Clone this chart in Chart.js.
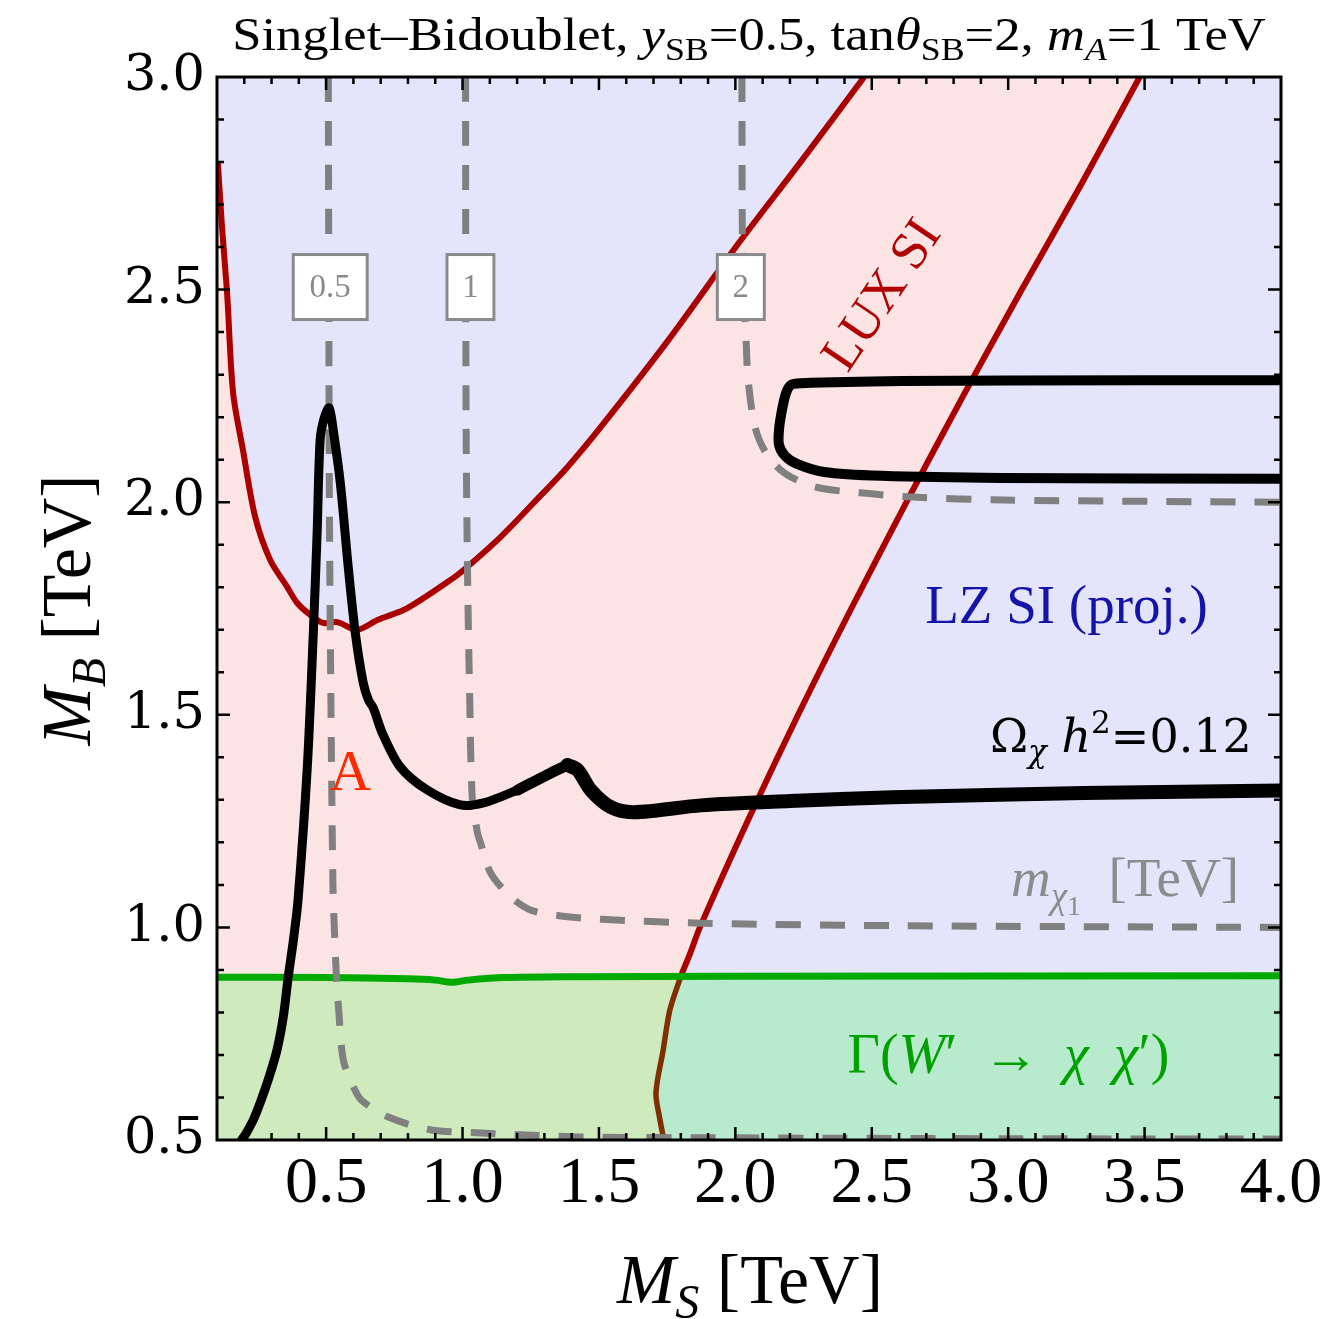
<!DOCTYPE html>
<html>
<head>
<meta charset="utf-8">
<script src="https://cdn.jsdelivr.net/npm/chart.js@4.4.1/dist/chart.umd.min.js"></script>
<style>
  html, body { margin: 0; padding: 0; background: #fff; }
</style>
</head>
<body>
<canvas id="chartSB" width="1334" height="1319"></canvas>
<script>
// =========================================================================
// Singlet-Bidoublet parameter plane (M_S, M_B) in TeV
// =========================================================================
const xMin = 0.1, xMax = 4.0, yMin = 0.5, yMax = 3.0;
const xTicks = [0.5, 1.0, 1.5, 2.0, 2.5, 3.0, 3.5, 4.0];
const yTicks = [0.5, 1.0, 1.5, 2.0, 2.5, 3.0];

// LUX SI exclusion boundary, left/upper branch
const luxUpper = [
  [0.103, 2.800], [0.118, 2.650], [0.137, 2.492], [0.159, 2.257], [0.195, 2.123],
  [0.240, 1.965], [0.295, 1.864], [0.357, 1.801], [0.394, 1.763], [0.442, 1.735],
  [0.489, 1.716], [0.541, 1.718], [0.614, 1.700], [0.688, 1.723], [0.798, 1.751],
  [0.967, 1.822], [1.018, 1.848], [1.139, 1.918], [1.260, 1.998], [1.385, 2.083],
  [1.507, 2.177], [1.753, 2.380], [2.013, 2.610], [2.245, 2.805], [2.472, 3.000]
];
// LUX SI exclusion boundary, right branch (top to bottom)
const luxRight = [
  [3.482, 3.000], [3.270, 2.750], [3.050, 2.500], [2.835, 2.250], [2.627, 2.000],
  [2.425, 1.750], [2.230, 1.500], [2.045, 1.250], [1.870, 1.000], [1.835, 0.940],
  [1.800, 0.885], [1.760, 0.806], [1.735, 0.710], [1.709, 0.611], [1.723, 0.550],
  [1.738, 0.500]
];
// Gamma(W' -> chi chi') boundary
const widthEdge = [
  [0.10, 0.883], [0.50, 0.882], [0.80, 0.879], [0.90, 0.876], [0.96, 0.871],
  [1.02, 0.876], [1.15, 0.882], [1.40, 0.884], [2.00, 0.885], [4.00, 0.886]
];
// m_chi1 contours [TeV]
const mChiLevels = ['0.5', '1', '2'];
const mChi05 = [
  [0.508, 3.000], [0.512, 2.000], [0.518, 1.500], [0.525, 1.100], [0.530, 1.000],
  [0.538, 0.880], [0.546, 0.806], [0.563, 0.688], [0.600, 0.625], [0.629, 0.594],
  [0.728, 0.554], [0.882, 0.524], [1.051, 0.517], [1.231, 0.512], [1.444, 0.507],
  [2.000, 0.505], [3.000, 0.503], [4.000, 0.502]
];
const mChi1 = [
  [1.011, 3.000], [1.013, 2.200], [1.018, 1.848], [1.026, 1.550], [1.036, 1.300],
  [1.055, 1.222], [1.066, 1.199], [1.103, 1.128], [1.176, 1.072], [1.249, 1.041],
  [1.360, 1.027], [1.507, 1.019], [1.874, 1.010], [2.608, 1.004], [4.000, 1.000]
];
const mChi2 = [
  [2.024, 3.000], [2.026, 2.600], [2.032, 2.480], [2.039, 2.389], [2.046, 2.294],
  [2.072, 2.177], [2.112, 2.116], [2.179, 2.069], [2.292, 2.036], [2.458, 2.022],
  [2.652, 2.012], [2.983, 2.005], [4.000, 2.000]
];
// Omega h^2 = 0.12 contours
const relicMain = [
  [0.190, 0.500], [0.207, 0.516], [0.235, 0.550], [0.262, 0.594], [0.292, 0.650],
  [0.320, 0.712], [0.343, 0.790], [0.361, 0.883], [0.380, 0.970], [0.397, 1.064],
  [0.431, 1.377], [0.453, 1.692], [0.467, 1.928], [0.478, 2.146], [0.493, 2.198],
  [0.511, 2.222], [0.526, 2.170], [0.552, 2.045], [0.581, 1.848], [0.607, 1.692],
  [0.636, 1.575], [0.655, 1.535], [0.673, 1.516], [0.706, 1.457], [0.772, 1.377],
  [0.871, 1.323], [0.992, 1.288], [1.077, 1.293], [1.202, 1.323], [1.323, 1.363],
  [1.385, 1.382], [1.422, 1.370], [1.470, 1.323], [1.543, 1.283], [1.628, 1.271],
  [1.874, 1.287], [2.200, 1.297], [2.575, 1.306], [3.277, 1.316], [4.000, 1.322]
];
const relicLoop = [
  [4.000, 2.287], [3.000, 2.286], [2.608, 2.285], [2.241, 2.280], [2.204, 2.276],
  [2.186, 2.257], [2.171, 2.217], [2.160, 2.170], [2.160, 2.135], [2.182, 2.109],
  [2.226, 2.090], [2.325, 2.071], [2.535, 2.062], [2.976, 2.057], [4.000, 2.055]
];

// ---- colours / geometry of the decorations
const colLZ = '#e4e4fa', colLUX = '#fde4e4', colGreenL = '#cfebbd', colGreenR = '#b8eacd';
const serif = '"Liberation Serif", "DejaVu Serif", serif';
const boxPos = [{ x: 0.515, y: 2.506, w: 77 }, { x: 1.029, y: 2.506, w: 50 }, { x: 2.020, y: 2.506, w: 50 }];
const smooth = 0.3;

// ---- split the LUX right branch where it meets the width boundary
function edgeAt(x) {
  for (let i = 1; i < widthEdge.length; i++) {
    const [x0, y0] = widthEdge[i - 1], [x1, y1] = widthEdge[i];
    if (x <= x1) return y0 + (y1 - y0) * (x - x0) / (x1 - x0);
  }
  return widthEdge[widthEdge.length - 1][1];
}
const knee = luxRight.findIndex(([x, y]) => y <= edgeAt(x) + 0.001);
const luxRed = luxRight.slice(0, knee + 1);
const luxBrown = luxRight.slice(knee);
const kneePt = luxRight[knee];

// polygons for the shaded regions; corner points are doubled so the spline stays sharp there
const first = a => a[0], last = a => a[a.length - 1];
const browns = luxBrown.slice(1);
const lightLeft = [[xMin, yMin], first(widthEdge), ...widthEdge.filter(p => p[0] < kneePt[0]), kneePt, kneePt,
  ...browns, last(browns)];
const lightRight = [kneePt, ...widthEdge.filter(p => p[0] > kneePt[0]), last(widthEdge), [xMax, yMin], [xMax, yMin],
  last(browns), ...browns.slice().reverse()];
const luxRegion = [...luxUpper, last(luxUpper), first(luxRight), ...luxRight, last(luxRight), [xMin, yMin]];

// the relic contour gets heavier towards large M_S
let bump = relicMain.findIndex(p => p[0] > 1);
relicMain.forEach((p, i) => { if (p[0] > 1 && p[1] > relicMain[bump][1]) bump = i; });
const mid = relicMain.findIndex(p => p[0] > 1.15);
const relicThin = relicMain.slice(0, mid + 1);
const relicMid = relicMain.slice(mid, bump + 1);
const relicThick = relicMain.slice(bump);

const toXY = arr => arr.map(([x, y]) => ({ x, y }));
function curve(arr, color, width, order, extra = {}) {
  return Object.assign({ data: toXY(arr), showLine: true, borderColor: color, borderWidth: width,
    pointRadius: 0, fill: false, clip: 0, order, tension: smooth, borderJoinStyle: 'round' }, extra);
}
function region(arr, color, order) {
  return { data: toXY(arr), showLine: true, borderColor: 'rgba(0,0,0,0)', borderWidth: 0,
    backgroundColor: color, fill: 'shape', pointRadius: 0, order, tension: smooth };
}
const dash = { borderDash: [25, 19], borderCapStyle: 'butt' };
const roundCap = { borderCapStyle: 'round' };

// ---- text with italics and sub/superscripts
function drawRich(ctx, runs, x, y, size, family, align) {
  const parts = runs.map(r => {
    const k = r.s === 'sub' || r.s === 'sup' ? 0.68 : r.s === 'sub2' ? 0.5 : 1;
    const font = `${r.i ? 'italic ' : ''}${Math.round(size * k)}px ${r.f || family}`;
    ctx.font = font;
    const dy = r.s === 'sub' ? 0.22 * size : r.s === 'sup' ? -0.4 * size : r.s === 'sub2' ? 0.36 * size : 0;
    return { t: r.t, font, dy, w: ctx.measureText(r.t).width };
  });
  const total = parts.reduce((s, p) => s + p.w, 0);
  let cx = align === 'center' ? x - total / 2 : align === 'right' ? x - total : x;
  ctx.textAlign = 'left';
  ctx.textBaseline = 'alphabetic';
  for (const p of parts) { ctx.font = p.font; ctx.fillText(p.t, cx, y + p.dy); cx += p.w; }
}

const plotBackground = {
  id: 'plotBackground',
  beforeDatasetsDraw(chart) {
    const { ctx, chartArea: a } = chart;
    ctx.save();
    ctx.fillStyle = colLZ;
    ctx.fillRect(a.left, a.top, a.right - a.left, a.bottom - a.top);
    ctx.restore();
  }
};

// Mathematica-style frame: inward ticks on all four sides
const frameTicks = {
  id: 'frameTicks',
  afterDatasetsDraw(chart) {
    const { ctx, chartArea: a, scales: { x, y } } = chart;
    ctx.save();
    ctx.strokeStyle = '#000';
    ctx.lineWidth = 2.5;
    ctx.beginPath();
    for (let t = Math.ceil(xMin * 10) + 1; t < xMax * 10; t++) {
      const len = t % 5 === 0 ? 13 : 7;
      const px = x.getPixelForValue(t / 10);
      ctx.moveTo(px, a.bottom); ctx.lineTo(px, a.bottom - len);
      ctx.moveTo(px, a.top); ctx.lineTo(px, a.top + len);
    }
    for (let t = yMin * 10 + 1; t < yMax * 10; t++) {
      const len = t % 5 === 0 ? 13 : 7;
      const py = y.getPixelForValue(t / 10);
      ctx.moveTo(a.left, py); ctx.lineTo(a.left + len, py);
      ctx.moveTo(a.right, py); ctx.lineTo(a.right - len, py);
    }
    ctx.stroke();
    ctx.lineWidth = 3;
    ctx.strokeRect(a.left, a.top, a.right - a.left, a.bottom - a.top);

    // contour level boxes
    mChiLevels.forEach((lbl, i) => {
      const b = boxPos[i];
      const cx = x.getPixelForValue(b.x), cy = y.getPixelForValue(b.y);
      ctx.fillStyle = '#fff';
      ctx.fillRect(cx - b.w / 2, cy - 34, b.w, 68);
      ctx.strokeStyle = '#8a8a8a';
      ctx.lineWidth = 3;
      ctx.strokeRect(cx - b.w / 2 + 1.5, cy - 32.5, b.w - 3, 65);
      ctx.fillStyle = '#8a8a8a';
      ctx.font = `33px ${serif}`;
      ctx.textAlign = 'center';
      ctx.textBaseline = 'middle';
      ctx.fillText(lbl, cx, cy + 1);
    });
    ctx.restore();
  }
};

const annotations = {
  id: 'annotations',
  afterDraw(chart) {
    const { ctx, scales: { x, y } } = chart;
    ctx.save();
    ctx.fillStyle = '#000';
    ctx.save();
    ctx.translate(749, 50);
    ctx.scale(1.12, 1);
    drawRich(ctx, [
      { t: 'Singlet\u2013Bidoublet, ' }, { t: 'y', i: 1 }, { t: 'SB', s: 'sub' }, { t: '=0.5, tan' },
      { t: '\u03b8', i: 1 }, { t: 'SB', s: 'sub' }, { t: '=2, ' }, { t: 'm', i: 1 }, { t: 'A', i: 1, s: 'sub' },
      { t: '=1 TeV' }
    ], 0, 0, 47, serif, 'center');
    ctx.restore();

    // axis titles
    drawRich(ctx, [{ t: 'M', i: 1 }, { t: 'S', i: 1, s: 'sub' }, { t: ' [TeV]' }], 750, 1303, 70, serif, 'center');
    ctx.save();
    ctx.translate(90, 610);
    ctx.rotate(-Math.PI / 2);
    drawRich(ctx, [{ t: 'M', i: 1 }, { t: 'B', i: 1, s: 'sub' }, { t: ' [TeV]' }], 0, 0, 70, serif, 'center');
    ctx.restore();

    // region labels
    ctx.save();
    ctx.fillStyle = '#b00000';
    ctx.translate(x.getPixelForValue(2.530), y.getPixelForValue(2.490));
    ctx.rotate(-56 * Math.PI / 180);
    drawRich(ctx, [{ t: 'LUX SI' }], 0, 18, 53, serif, 'center');
    ctx.restore();

    ctx.fillStyle = '#1414aa';
    drawRich(ctx, [{ t: 'LZ SI (proj.)' }], x.getPixelForValue(3.214), y.getPixelForValue(1.716), 55, serif, 'center');

    ctx.fillStyle = '#000';
    drawRich(ctx, [{ t: '\u03a9' }, { t: '\u03c7', i: 1, s: 'sub' }, { t: ' ' }, { t: 'h', i: 1 }, { t: '2', s: 'sup' }, { t: '=0.12' }],
      x.getPixelForValue(3.893), y.getPixelForValue(1.413), 46, '"DejaVu Serif", serif', 'right');

    ctx.fillStyle = '#8c8c8c';
    drawRich(ctx, [{ t: 'm', i: 1 }, { t: '\u03c7', i: 1, s: 'sub' }, { t: '1', s: 'sub2' }, { t: '  [TeV]' }],
      x.getPixelForValue(3.846), y.getPixelForValue(1.075), 55, serif, 'right');

    ctx.fillStyle = '#ff2a00';
    drawRich(ctx, [{ t: 'A' }], x.getPixelForValue(0.588), y.getPixelForValue(1.323), 58, serif, 'center');

    ctx.fillStyle = '#00a000';
    drawRich(ctx, [{ t: '\u0393(' }, { t: 'W', i: 1 }, { t: '\u2032\u2009 \u2192 \u2009' }, { t: '\u03c7', i: 1 }, { t: ' \u2009' },
      { t: '\u03c7', i: 1 }, { t: '\u2032)' }], x.getPixelForValue(3.001), y.getPixelForValue(0.658), 56, serif, 'center');
    ctx.restore();
  }
};

const datasets = [
  region(luxRegion, colLUX, 20),
  region(lightLeft, colGreenL, 19),
  region(lightRight, colGreenR, 19),
  curve(luxUpper, '#aa0000', 6, 10),
  curve(luxRed, '#aa0000', 6, 10),
  curve(luxBrown, '#803000', 5.5, 10),
  curve(widthEdge, '#00aa00', 7, 9),
  curve(mChi05, '#808080', 7, 8, dash),
  curve(mChi1, '#808080', 7, 8, dash),
  curve(mChi2, '#808080', 7, 8, dash),
  curve(relicThin, '#000', 9, 1, roundCap),
  curve(relicMid, '#000', 11, 1, roundCap),
  curve(relicThick, '#000', 14, 1, roundCap),
  curve(relicLoop, '#000', 10, 1)
];

const chartSB = new Chart(document.getElementById('chartSB'), {
  type: 'scatter',
  data: { datasets },
  options: {
    responsive: false,
    animation: false,
    events: [],
    layout: { padding: { top: 77, right: 53, left: 0, bottom: 0 } },
    plugins: { legend: { display: false }, tooltip: { enabled: false } },
    scales: {
      x: {
        type: 'linear', min: xMin, max: xMax,
        afterBuildTicks: s => { s.ticks = xTicks.map(v => ({ value: v })); },
        afterFit: s => { s.height = 179; },
        grid: { display: false, drawTicks: false }, border: { display: false },
        ticks: { font: { family: serif, size: 66 }, color: '#000', padding: 5, maxRotation: 0, autoSkip: false,
          callback: v => v.toFixed(1) }
      },
      y: {
        type: 'linear', min: yMin, max: yMax,
        afterBuildTicks: s => { s.ticks = yTicks.map(v => ({ value: v })); },
        afterFit: s => { s.width = 217; },
        grid: { display: false, drawTicks: false }, border: { display: false },
        ticks: { font: { family: '"DejaVu Serif", serif', size: 51 }, color: '#000', padding: 12, autoSkip: false,
          callback: v => v.toFixed(1) }
      }
    }
  },
  plugins: [plotBackground, frameTicks, annotations]
});
</script>
</body>
</html>
